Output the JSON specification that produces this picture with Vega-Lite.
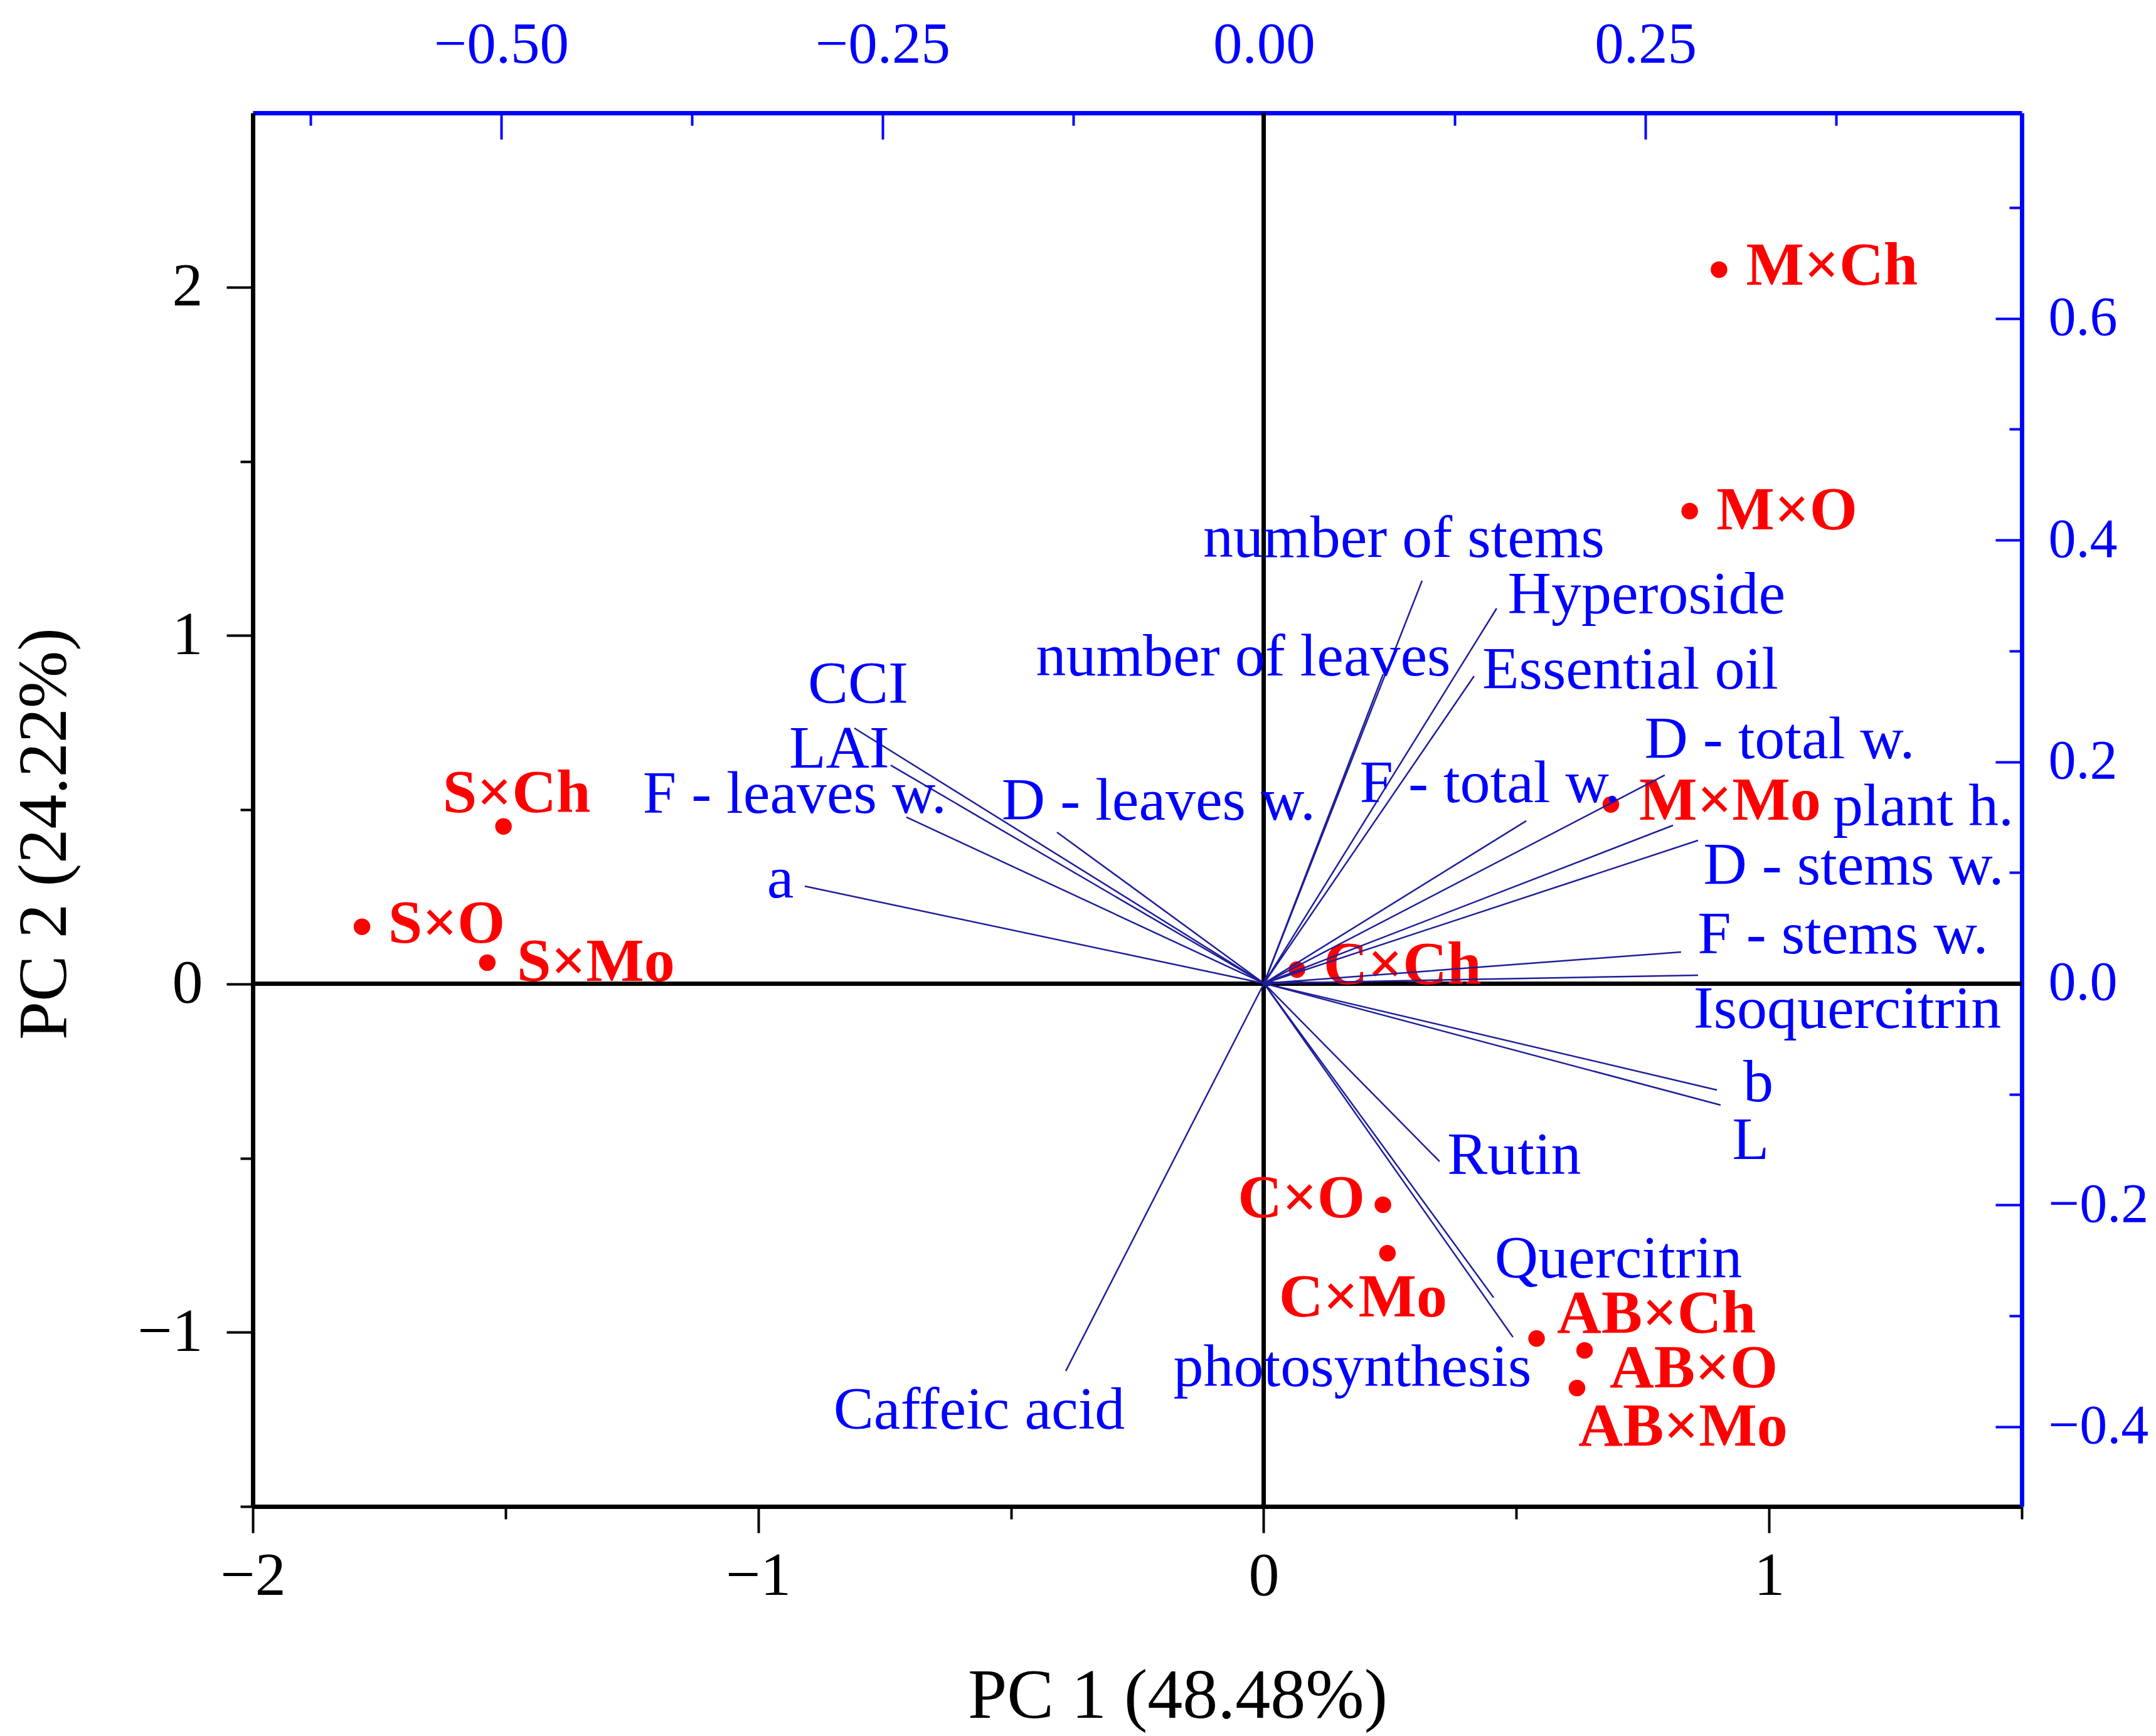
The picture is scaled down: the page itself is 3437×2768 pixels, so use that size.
{
  "$schema": "https://vega.github.io/schema/vega-lite/v6.json",
  "width": 2820,
  "height": 2222,
  "autosize": {"type": "none"},
  "padding": {"left": 403, "top": 180, "right": 214, "bottom": 366},
  "background": "white",
  "config": {
    "view": {"stroke": null},
    "text": {"font": "Liberation Serif", "fontSize": 96, "color": "#0000FF", "align": "center", "baseline": "middle"}
  },
  "datasets": {
    "scores": [
      {"name": "M×Ch", "PC1": 0.901, "PC2": 2.050},
      {"name": "M×O", "PC1": 0.843, "PC2": 1.357},
      {"name": "M×Mo", "PC1": 0.687, "PC2": 0.515},
      {"name": "C×Ch", "PC1": 0.066, "PC2": 0.041},
      {"name": "S×Ch", "PC1": -1.504, "PC2": 0.452},
      {"name": "S×O", "PC1": -1.784, "PC2": 0.164},
      {"name": "S×Mo", "PC1": -1.536, "PC2": 0.061},
      {"name": "C×O", "PC1": 0.236, "PC2": -0.634},
      {"name": "C×Mo", "PC1": 0.245, "PC2": -0.773},
      {"name": "AB×Ch", "PC1": 0.540, "PC2": -1.018},
      {"name": "AB×O", "PC1": 0.635, "PC2": -1.052},
      {"name": "AB×Mo", "PC1": 0.620, "PC2": -1.160}
    ],
    "loadings": [
      {"name": "CCI", "PC1": -0.2685, "PC2": 0.2303},
      {"name": "LAI", "PC1": -0.2447, "PC2": 0.1969},
      {"name": "F - leaves w.", "PC1": -0.2344, "PC2": 0.1500},
      {"name": "a", "PC1": -0.3010, "PC2": 0.0877},
      {"name": "D - leaves w.", "PC1": -0.1357, "PC2": 0.1364},
      {"name": "number of stems", "PC1": 0.1036, "PC2": 0.3633},
      {"name": "number of leaves", "PC1": 0.0781, "PC2": 0.2790},
      {"name": "Hyperoside", "PC1": 0.1525, "PC2": 0.3384},
      {"name": "Essential oil", "PC1": 0.1377, "PC2": 0.2773},
      {"name": "F - total w.", "PC1": 0.1719, "PC2": 0.1466},
      {"name": "D - total w.", "PC1": 0.2627, "PC2": 0.1879},
      {"name": "plant h.", "PC1": 0.2681, "PC2": 0.1426},
      {"name": "D - stems w.", "PC1": 0.2845, "PC2": 0.1290},
      {"name": "F - stems w.", "PC1": 0.2734, "PC2": 0.0283},
      {"name": "Isoquercitrin", "PC1": 0.2845, "PC2": 0.0074},
      {"name": "b", "PC1": 0.2969, "PC2": -0.0962},
      {"name": "L", "PC1": 0.2993, "PC2": -0.1098},
      {"name": "Rutin", "PC1": 0.1151, "PC2": -0.1607},
      {"name": "Quercitrin", "PC1": 0.1505, "PC2": -0.2835},
      {"name": "photosynthesis", "PC1": 0.1632, "PC2": -0.3192},
      {"name": "Caffeic acid", "PC1": -0.1299, "PC2": -0.3497}
    ]
  },
  "layer": [
    {
      "data": {"name": "scores"},
      "resolve": {"axis": {"x": "independent", "y": "independent"}},
      "layer": [
        {
          "mark": {"type": "rule", "color": "#000000", "strokeWidth": 6},
          "encoding": {
            "x": {"datum": 0, "type": "quantitative",
              "scale": {"domain": [-2, 1.5], "nice": false, "zero": false},
              "axis": {"orient": "bottom", "values": [-2, -1, 0, 1], "format": "d", "grid": false,
                "tickSize": 42, "tickWidth": 4, "tickColor": "#000000",
                "domainColor": "#000000", "domainWidth": 7,
                "labelFont": "Liberation Serif", "labelFontSize": 98, "labelColor": "#000000", "labelLimit": 0,
                "labelPadding": 21, "labelFlush": false, "labelOverlap": false, "labelBound": false,
                "title": "PC 1 (48.48%)", "titleFont": "Liberation Serif", "titleFontSize": 112,
                "titleFontWeight": "normal", "titleColor": "#000000", "titleLimit": 0,
                "titleX": 1474, "titleY": 248, "titleBaseline": "top", "titleAlign": "center"}}
          }
        },
        {
          "mark": {"type": "rule", "color": "#000000", "strokeWidth": 6},
          "encoding": {
            "y": {"datum": 0, "type": "quantitative",
              "scale": {"domain": [-1.5, 2.5], "nice": false, "zero": false},
              "axis": {"orient": "left", "values": [-1, 0, 1, 2], "format": "d", "grid": false,
                "tickSize": 42, "tickWidth": 4, "tickColor": "#000000",
                "domainColor": "#000000", "domainWidth": 7,
                "labelFont": "Liberation Serif", "labelFontSize": 98, "labelColor": "#000000", "labelLimit": 0,
                "labelPadding": 38, "labelFlush": false, "labelOverlap": false, "labelBound": false,
                "title": "PC 2 (24.22%)", "titleFont": "Liberation Serif", "titleFontSize": 110,
                "titleFontWeight": "normal", "titleColor": "#000000", "titleAngle": -90, "titleLimit": 0,
                "titleX": -276, "titleY": 1149, "titleBaseline": "bottom", "titleAlign": "center"}}
          }
        },
        {
          "mark": {"type": "circle", "color": "#FF0000", "size": 700, "opacity": 1},
          "encoding": {
            "x": {"field": "PC1", "type": "quantitative",
              "scale": {"domain": [-2, 1.5], "nice": false, "zero": false},
              "axis": {"orient": "bottom", "values": [-1.5, -0.5, 0.5, 1.5], "labels": false, "domain": false,
                "grid": false, "tickSize": 20, "tickWidth": 4, "tickColor": "#000000", "title": null}},
            "y": {"field": "PC2", "type": "quantitative",
              "scale": {"domain": [-1.5, 2.5], "nice": false, "zero": false},
              "axis": {"orient": "left", "values": [-1.5, -0.5, 0.5, 1.5], "labels": false, "domain": false,
                "grid": false, "tickSize": 20, "tickWidth": 4, "tickColor": "#000000", "title": null}}
          }
        },
        {"transform": [{"filter": "datum.name === 'M×Ch'"}], "mark": {"type": "text", "color": "#FF0000", "fontWeight": "bold", "fontSize": 98, "dx": 180, "dy": -5},
          "encoding": {"x": {"field": "PC1", "type": "quantitative", "axis": null}, "y": {"field": "PC2", "type": "quantitative", "axis": null}, "text": {"field": "name"}}},
        {"transform": [{"filter": "datum.name === 'M×O'"}], "mark": {"type": "text", "color": "#FF0000", "fontWeight": "bold", "fontSize": 98, "dx": 155, "dy": 0},
          "encoding": {"x": {"field": "PC1", "type": "quantitative", "axis": null}, "y": {"field": "PC2", "type": "quantitative", "axis": null}, "text": {"field": "name"}}},
        {"transform": [{"filter": "datum.name === 'M×Mo'"}], "mark": {"type": "text", "color": "#FF0000", "fontWeight": "bold", "fontSize": 98, "dx": 190, "dy": -5},
          "encoding": {"x": {"field": "PC1", "type": "quantitative", "axis": null}, "y": {"field": "PC2", "type": "quantitative", "axis": null}, "text": {"field": "name"}}},
        {"transform": [{"filter": "datum.name === 'C×Ch'"}], "mark": {"type": "text", "color": "#FF0000", "fontWeight": "bold", "fontSize": 98, "dx": 168, "dy": -6},
          "encoding": {"x": {"field": "PC1", "type": "quantitative", "axis": null}, "y": {"field": "PC2", "type": "quantitative", "axis": null}, "text": {"field": "name"}}},
        {"transform": [{"filter": "datum.name === 'S×Ch'"}], "mark": {"type": "text", "color": "#FF0000", "fontWeight": "bold", "fontSize": 98, "dx": 21, "dy": -52},
          "encoding": {"x": {"field": "PC1", "type": "quantitative", "axis": null}, "y": {"field": "PC2", "type": "quantitative", "axis": null}, "text": {"field": "name"}}},
        {"transform": [{"filter": "datum.name === 'S×O'"}], "mark": {"type": "text", "color": "#FF0000", "fontWeight": "bold", "fontSize": 98, "dx": 135, "dy": -4},
          "encoding": {"x": {"field": "PC1", "type": "quantitative", "axis": null}, "y": {"field": "PC2", "type": "quantitative", "axis": null}, "text": {"field": "name"}}},
        {"transform": [{"filter": "datum.name === 'S×Mo'"}], "mark": {"type": "text", "color": "#FF0000", "fontWeight": "bold", "fontSize": 98, "dx": 173, "dy": 0},
          "encoding": {"x": {"field": "PC1", "type": "quantitative", "axis": null}, "y": {"field": "PC2", "type": "quantitative", "axis": null}, "text": {"field": "name"}}},
        {"transform": [{"filter": "datum.name === 'C×O'"}], "mark": {"type": "text", "color": "#FF0000", "fontWeight": "bold", "fontSize": 98, "dx": -130, "dy": -9},
          "encoding": {"x": {"field": "PC1", "type": "quantitative", "axis": null}, "y": {"field": "PC2", "type": "quantitative", "axis": null}, "text": {"field": "name"}}},
        {"transform": [{"filter": "datum.name === 'C×Mo'"}], "mark": {"type": "text", "color": "#FF0000", "fontWeight": "bold", "fontSize": 98, "dx": -39, "dy": 72},
          "encoding": {"x": {"field": "PC1", "type": "quantitative", "axis": null}, "y": {"field": "PC2", "type": "quantitative", "axis": null}, "text": {"field": "name"}}},
        {"transform": [{"filter": "datum.name === 'AB×Ch'"}], "mark": {"type": "text", "color": "#FF0000", "fontWeight": "bold", "fontSize": 98, "dx": 191, "dy": -38},
          "encoding": {"x": {"field": "PC1", "type": "quantitative", "axis": null}, "y": {"field": "PC2", "type": "quantitative", "axis": null}, "text": {"field": "name"}}},
        {"transform": [{"filter": "datum.name === 'AB×O'"}], "mark": {"type": "text", "color": "#FF0000", "fontWeight": "bold", "fontSize": 98, "dx": 174, "dy": 30},
          "encoding": {"x": {"field": "PC1", "type": "quantitative", "axis": null}, "y": {"field": "PC2", "type": "quantitative", "axis": null}, "text": {"field": "name"}}},
        {"transform": [{"filter": "datum.name === 'AB×Mo'"}], "mark": {"type": "text", "color": "#FF0000", "fontWeight": "bold", "fontSize": 98, "dx": 169, "dy": 63},
          "encoding": {"x": {"field": "PC1", "type": "quantitative", "axis": null}, "y": {"field": "PC2", "type": "quantitative", "axis": null}, "text": {"field": "name"}}}
      ]
    },
    {
      "data": {"name": "loadings"},
      "resolve": {"axis": {"x": "independent", "y": "independent"}},
      "layer": [
        {
          "mark": {"type": "rule", "color": "#1e1e9a", "strokeWidth": 2.5},
          "encoding": {
            "x": {"field": "PC1", "type": "quantitative",
              "scale": {"domain": [-0.6628, 0.4967], "nice": false, "zero": false},
              "axis": {"orient": "top", "values": [-0.5, -0.25, 0, 0.25], "format": ".2f", "grid": false,
                "tickSize": -42, "tickWidth": 4, "tickColor": "#0000FF",
                "domainColor": "#0000FF", "domainWidth": 7,
                "labelFont": "Liberation Serif", "labelFontSize": 93, "labelColor": "#0000FF", "labelLimit": 0,
                "labelPadding": 103, "labelFlush": false, "labelOverlap": false, "labelBound": false,
                "title": null}},
            "y": {"field": "PC2", "type": "quantitative",
              "scale": {"domain": [-0.472, 0.7855], "nice": false, "zero": false},
              "axis": {"orient": "right", "values": [-0.4, -0.2, 0, 0.2, 0.4, 0.6], "format": ".1f", "grid": false,
                "tickSize": -42, "tickWidth": 4, "tickColor": "#0000FF",
                "domainColor": "#0000FF", "domainWidth": 7,
                "labelFont": "Liberation Serif", "labelFontSize": 88, "labelColor": "#0000FF", "labelLimit": 0,
                "labelPadding": 84, "labelFlush": false, "labelOverlap": false, "labelBound": false,
                "title": null}},
            "x2": {"datum": 0},
            "y2": {"datum": 0}
          }
        },
        {
          "mark": {"type": "point", "opacity": 0},
          "encoding": {
            "x": {"field": "PC1", "type": "quantitative",
              "scale": {"domain": [-0.6628, 0.4967], "nice": false, "zero": false},
              "axis": {"orient": "top", "values": [-0.625, -0.375, -0.125, 0.125, 0.375], "labels": false, "domain": false,
                "grid": false, "tickSize": -20, "tickWidth": 4, "tickColor": "#0000FF", "title": null}},
            "y": {"field": "PC2", "type": "quantitative",
              "scale": {"domain": [-0.472, 0.7855], "nice": false, "zero": false},
              "axis": {"orient": "right", "values": [-0.3, -0.1, 0.1, 0.3, 0.5, 0.7], "labels": false, "domain": false,
                "grid": false, "tickSize": -20, "tickWidth": 4, "tickColor": "#0000FF", "title": null}}
          }
        },
        {"transform": [{"filter": "datum.name === 'CCI'"}], "mark": {"type": "text", "dx": 6, "dy": -69},
          "encoding": {"x": {"field": "PC1", "type": "quantitative", "axis": null}, "y": {"field": "PC2", "type": "quantitative", "axis": null}, "text": {"field": "name"}}},
        {"transform": [{"filter": "datum.name === 'LAI'"}], "mark": {"type": "text", "dx": -82, "dy": -25},
          "encoding": {"x": {"field": "PC1", "type": "quantitative", "axis": null}, "y": {"field": "PC2", "type": "quantitative", "axis": null}, "text": {"field": "name"}}},
        {"transform": [{"filter": "datum.name === 'F - leaves w.'"}], "mark": {"type": "text", "dx": -178, "dy": -36},
          "encoding": {"x": {"field": "PC1", "type": "quantitative", "axis": null}, "y": {"field": "PC2", "type": "quantitative", "axis": null}, "text": {"field": "name"}}},
        {"transform": [{"filter": "datum.name === 'a'"}], "mark": {"type": "text", "dx": -39, "dy": -11},
          "encoding": {"x": {"field": "PC1", "type": "quantitative", "axis": null}, "y": {"field": "PC2", "type": "quantitative", "axis": null}, "text": {"field": "name"}}},
        {"transform": [{"filter": "datum.name === 'D - leaves w.'"}], "mark": {"type": "text", "dx": 162, "dy": -49},
          "encoding": {"x": {"field": "PC1", "type": "quantitative", "axis": null}, "y": {"field": "PC2", "type": "quantitative", "axis": null}, "text": {"field": "name"}}},
        {"transform": [{"filter": "datum.name === 'number of stems'"}], "mark": {"type": "text", "dx": -29, "dy": -67},
          "encoding": {"x": {"field": "PC1", "type": "quantitative", "axis": null}, "y": {"field": "PC2", "type": "quantitative", "axis": null}, "text": {"field": "name"}}},
        {"transform": [{"filter": "datum.name === 'number of leaves'"}], "mark": {"type": "text", "dx": -223, "dy": -27},
          "encoding": {"x": {"field": "PC1", "type": "quantitative", "axis": null}, "y": {"field": "PC2", "type": "quantitative", "axis": null}, "text": {"field": "name"}}},
        {"transform": [{"filter": "datum.name === 'Hyperoside'"}], "mark": {"type": "text", "dx": 239, "dy": -21},
          "encoding": {"x": {"field": "PC1", "type": "quantitative", "axis": null}, "y": {"field": "PC2", "type": "quantitative", "axis": null}, "text": {"field": "name"}}},
        {"transform": [{"filter": "datum.name === 'Essential oil'"}], "mark": {"type": "text", "dx": 249, "dy": -9},
          "encoding": {"x": {"field": "PC1", "type": "quantitative", "axis": null}, "y": {"field": "PC2", "type": "quantitative", "axis": null}, "text": {"field": "name"}}},
        {"transform": [{"filter": "datum.name === 'D - total w.'"}], "mark": {"type": "text", "dx": 183, "dy": -56},
          "encoding": {"x": {"field": "PC1", "type": "quantitative", "axis": null}, "y": {"field": "PC2", "type": "quantitative", "axis": null}, "text": {"field": "name"}}},
        {"transform": [{"filter": "datum.name === 'F - total w.'"}], "mark": {"type": "text", "dx": -58, "dy": -59},
          "encoding": {"x": {"field": "PC1", "type": "quantitative", "axis": null}, "y": {"field": "PC2", "type": "quantitative", "axis": null}, "text": {"field": "name"}}},
        {"transform": [{"filter": "datum.name === 'plant h.'"}], "mark": {"type": "text", "dx": 399, "dy": -29},
          "encoding": {"x": {"field": "PC1", "type": "quantitative", "axis": null}, "y": {"field": "PC2", "type": "quantitative", "axis": null}, "text": {"field": "name"}}},
        {"transform": [{"filter": "datum.name === 'D - stems w.'"}], "mark": {"type": "text", "dx": 248, "dy": 41},
          "encoding": {"x": {"field": "PC1", "type": "quantitative", "axis": null}, "y": {"field": "PC2", "type": "quantitative", "axis": null}, "text": {"field": "name"}}},
        {"transform": [{"filter": "datum.name === 'F - stems w.'"}], "mark": {"type": "text", "dx": 258, "dy": -27},
          "encoding": {"x": {"field": "PC1", "type": "quantitative", "axis": null}, "y": {"field": "PC2", "type": "quantitative", "axis": null}, "text": {"field": "name"}}},
        {"transform": [{"filter": "datum.name === 'Isoquercitrin'"}], "mark": {"type": "text", "dx": 238, "dy": 55},
          "encoding": {"x": {"field": "PC1", "type": "quantitative", "axis": null}, "y": {"field": "PC2", "type": "quantitative", "axis": null}, "text": {"field": "name"}}},
        {"transform": [{"filter": "datum.name === 'b'"}], "mark": {"type": "text", "dx": 66, "dy": -11},
          "encoding": {"x": {"field": "PC1", "type": "quantitative", "axis": null}, "y": {"field": "PC2", "type": "quantitative", "axis": null}, "text": {"field": "name"}}},
        {"transform": [{"filter": "datum.name === 'L'"}], "mark": {"type": "text", "dx": 48, "dy": 57},
          "encoding": {"x": {"field": "PC1", "type": "quantitative", "axis": null}, "y": {"field": "PC2", "type": "quantitative", "axis": null}, "text": {"field": "name"}}},
        {"transform": [{"filter": "datum.name === 'Rutin'"}], "mark": {"type": "text", "dx": 119, "dy": -9},
          "encoding": {"x": {"field": "PC1", "type": "quantitative", "axis": null}, "y": {"field": "PC2", "type": "quantitative", "axis": null}, "text": {"field": "name"}}},
        {"transform": [{"filter": "datum.name === 'Quercitrin'"}], "mark": {"type": "text", "dx": 199, "dy": -61},
          "encoding": {"x": {"field": "PC1", "type": "quantitative", "axis": null}, "y": {"field": "PC2", "type": "quantitative", "axis": null}, "text": {"field": "name"}}},
        {"transform": [{"filter": "datum.name === 'photosynthesis'"}], "mark": {"type": "text", "dx": -256, "dy": 49},
          "encoding": {"x": {"field": "PC1", "type": "quantitative", "axis": null}, "y": {"field": "PC2", "type": "quantitative", "axis": null}, "text": {"field": "name"}}},
        {"transform": [{"filter": "datum.name === 'Caffeic acid'"}], "mark": {"type": "text", "dx": -138, "dy": 63},
          "encoding": {"x": {"field": "PC1", "type": "quantitative", "axis": null}, "y": {"field": "PC2", "type": "quantitative", "axis": null}, "text": {"field": "name"}}}
      ]
    }
  ],
  "resolve": {"scale": {"x": "independent", "y": "independent"}}
}
